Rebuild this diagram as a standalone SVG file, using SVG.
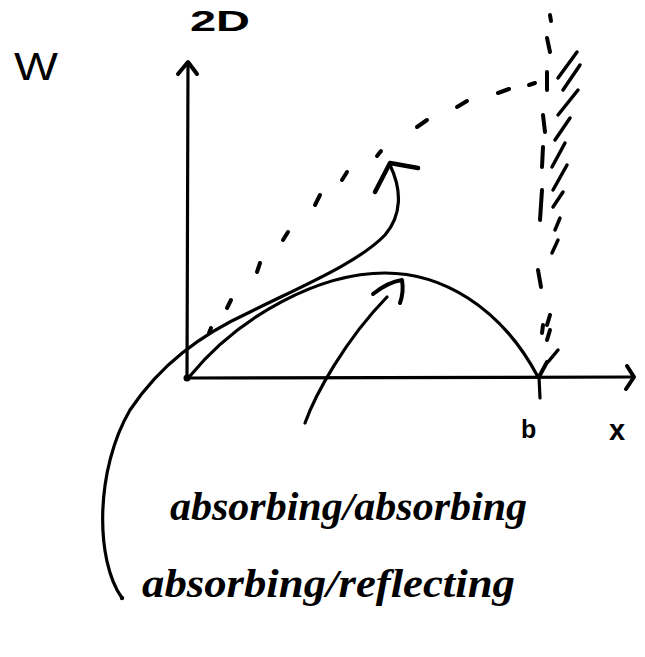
<svg xmlns="http://www.w3.org/2000/svg" width="645" height="657" viewBox="0 0 645 657">
<style>
.ink{stroke:#000;fill:none;stroke-linecap:round;stroke-linejoin:round}
.axis{stroke-width:3.2}
.curve{stroke-width:3.2}
.dash{stroke-width:4}
.hatch{stroke-width:3.5}
.lbl{font-family:"Liberation Sans","DejaVu Sans",sans-serif;fill:#000}
.hand{font-family:"Liberation Serif","DejaVu Serif",serif;font-style:italic;font-weight:bold;fill:#000}
</style>
<rect width="645" height="657" fill="#fff"/>
<g id="axes" class="ink axis">
  <path d="M187,378 L188,63"/>
  <path d="M178,74 L188,62 L197,74" stroke-width="4"/>
  <path d="M187,378 L633,377"/>
  <path d="M627,366 L634,377 L626,389" stroke-width="4"/>
  <path d="M539,377 L540,398"/>
  <circle cx="187" cy="378" r="3.5" fill="#000" stroke="none"/>
</g>
<g id="wall" class="ink">
  <g class="dash">
    <path d="M550,15 L551,21"/>
    <path d="M547,38 L550,52"/>
    <path d="M547,72 L547,90"/>
    <path d="M543,115 L545,132"/>
    <path d="M543,147 L542,167"/>
    <path d="M542,190 L540,220"/>
    <path d="M538,270 L541,287"/>
    <path d="M550,315 L547,325"/>
    <path d="M543,325 L542,333"/>
    <path d="M550,330 L547,340"/>
    <path d="M547,362 L540,375"/>
  </g>
  <g class="hatch">
    <path d="M577,52 L558,78"/>
    <path d="M580,65 L563,90"/>
    <path d="M578,90 L558,115"/>
    <path d="M570,118 L555,140"/>
    <path d="M565,143 L552,167"/>
    <path d="M567,165 L553,190"/>
    <path d="M563,192 L553,207"/>
    <path d="M560,218 L555,230"/>
    <path d="M558,240 L552,253"/>
    <path d="M558,350 L548,362"/>
  </g>
</g>
<g id="dotted-line" class="ink dash">
  <path d="M209,333 L211,328"/>
  <path d="M227,308 L231,300"/>
  <path d="M257,272 L260,263"/>
  <path d="M283,240 L288,232"/>
  <path d="M315,205 L320,195"/>
  <path d="M342,180 L347,172"/>
  <path d="M377,156 L381,151"/>
  <path d="M417,127 L427,120"/>
  <path d="M457,107 L467,101"/>
  <path d="M498,93 L509,89"/>
  <path d="M529,85 L535,83"/>
</g>
<g id="absorbing-absorbing-curve" class="ink curve">
  <path d="M190,376 C240,315 320,273 385,273 C440,273 500,305 538,377"/>
</g>
<g id="absorbing-reflecting-curve" class="ink curve">
  <path d="M122,598 C95,560 95,470 130,410 C160,365 200,335 250,312 C300,287 358,263 385,235 C402,215 402,190 390,165"/>
  <path d="M375,192 L390,163 L418,168" stroke-width="4.5"/>
  <circle cx="122" cy="598" r="2.2" fill="#000" stroke="none"/>
</g>
<g id="connectors" class="ink curve">
  <path d="M305,423 C315,395 345,340 387,297"/>
  <path d="M373,294 Q388,282 402,280 Q404,292 400,303" stroke-width="4"/>
</g>
<g id="labels">
  <text class="lbl" x="190" y="31" font-size="30" font-weight="bold" textLength="60" lengthAdjust="spacingAndGlyphs">2D</text>
  <text class="lbl" x="14" y="80" font-size="38" textLength="44" lengthAdjust="spacingAndGlyphs">W</text>
  <text class="lbl" x="521" y="438" font-size="25" font-weight="bold">b</text>
  <text class="lbl" x="609" y="440" font-size="29" font-weight="bold">x</text>
  <text class="hand" x="170" y="520" font-size="40" textLength="357" lengthAdjust="spacingAndGlyphs">absorbing/absorbing</text>
  <text class="hand" x="142" y="597" font-size="40" textLength="373" lengthAdjust="spacingAndGlyphs">absorbing/reflecting</text>
</g>
</svg>
